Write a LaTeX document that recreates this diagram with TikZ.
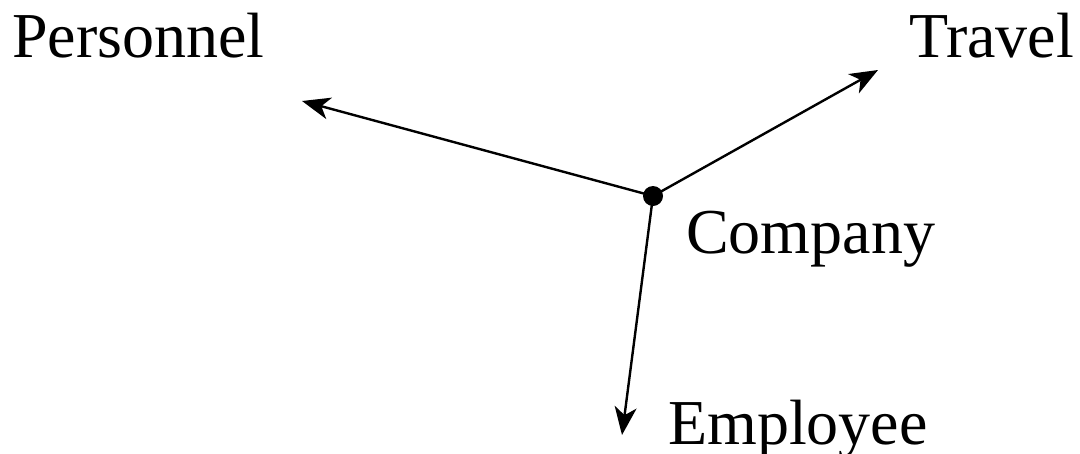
\documentclass[tikz,border=0pt]{standalone}
\usepackage{fontspec}
\setmainfont{Liberation Serif}
\usetikzlibrary{arrows.meta}
\begin{document}
\begin{tikzpicture}[x=1pt,y=-1pt,
  lbl/.style={anchor=base west,inner sep=0pt,font=\fontsize{64}{76}\selectfont},
  conn/.style={line width=2.4pt,-{Stealth[length=28pt,width=22pt,inset=8pt]}},
  dotnode/.style={circle,fill=black,minimum size=20pt,inner sep=0pt}]
\useasboundingbox (0,0) rectangle (1080,453);
\node[dotnode] (c) at (653,196) {};
\coordinate (pt) at (302,101);
\coordinate (tt) at (878,70);
\coordinate (et) at (622,435);
\draw[conn] (c.center) -- (pt);
\draw[conn] (c.center) -- (tt);
\draw[conn] (c.center) -- (et);
\node[lbl] (personnel) at (12,57) {Personnel};
\node[lbl] (travel) at (909,57) {Travel};
\node[lbl] (company) at (686,253) {Company};
\node[lbl] (employee) at (668,444) {Employee};
\end{tikzpicture}
\end{document}
